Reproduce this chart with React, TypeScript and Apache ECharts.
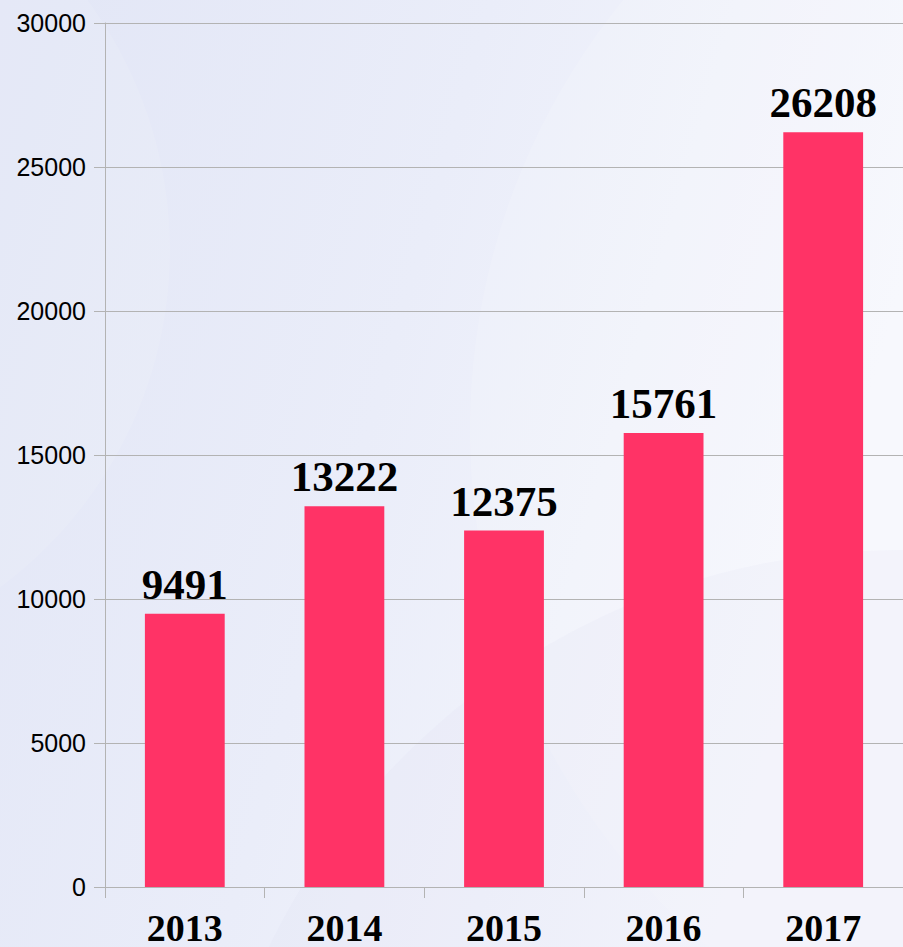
import React, { useEffect, useRef } from "react";
import * as echarts from "echarts";

const categories = ["2013", "2014", "2015", "2016", "2017"];
const values = [9491, 13222, 12375, 15761, 26208];
const yTicks = [0, 5000, 10000, 15000, 20000, 25000, 30000];

export default function App() {
  const ref = useRef<HTMLDivElement>(null);
  useEffect(() => {
    document.body.style.margin = "0";
    const chart = echarts.init(ref.current!, null, { renderer: "svg" });
    chart.setOption({
      animation: false,
      backgroundColor: {
        type: "linear",
        x: 0,
        y: 0,
        x2: 1,
        y2: 0.3,
        colorStops: [
          { offset: 0, color: "#E2E6F6" },
          { offset: 0.5, color: "#EAEDF9" },
          { offset: 1, color: "#F6F7FD" },
        ],
      },
      graphic: [
        {
          type: "circle",
          z: -10,
          silent: true,
          shape: { cx: 1150, cy: 430, r: 680 },
          style: { fill: "rgba(255,255,255,0.15)" },
        },
        {
          type: "circle",
          z: -10,
          silent: true,
          shape: { cx: 900, cy: 1250, r: 700 },
          style: { fill: "rgba(210,216,240,0.12)" },
        },
        {
          type: "circle",
          z: -10,
          silent: true,
          shape: { cx: -250, cy: 250, r: 420 },
          style: { fill: "rgba(255,255,255,0.1)" },
        },
      ],
      grid: { left: 105, top: 23, bottom: 57, width: 803 },
      xAxis: {
        type: "category",
        data: categories,
        boundaryGap: true,
        axisLine: { show: true, lineStyle: { color: "#B3B3B3", width: 1 } },
        axisTick: { show: true, length: 11, lineStyle: { color: "#B3B3B3" } },
        axisLabel: {
          margin: 22,
          color: "#000",
          fontFamily: "Liberation Serif, Times New Roman, serif",
          fontWeight: "bold",
          fontSize: 38,
        },
      },
      yAxis: {
        type: "value",
        min: yTicks[0],
        max: yTicks[yTicks.length - 1],
        interval: 5000,
        axisLine: { show: true, lineStyle: { color: "#B3B3B3", width: 1 } },
        axisTick: { show: true, length: 11, lineStyle: { color: "#B3B3B3" } },
        splitLine: { show: true, lineStyle: { color: "#B3B3B3", width: 1 } },
        axisLabel: {
          margin: 19,
          color: "#000",
          fontFamily: "Liberation Sans, Arial, sans-serif",
          fontSize: 25,
          formatter: (v: number) => String(v),
        },
      },
      series: [
        {
          type: "bar",
          data: values,
          barWidth: "50%",
          itemStyle: { color: "#FF3366" },
          label: {
            show: true,
            position: "top",
            distance: 8,
            color: "#000",
            fontFamily: "Liberation Serif, Times New Roman, serif",
            fontWeight: "bold",
            fontSize: 43,
          },
        },
      ],
    });
    return () => chart.dispose();
  }, []);
  return <div ref={ref} style={{ width: 903, height: 947 }} />;
}
